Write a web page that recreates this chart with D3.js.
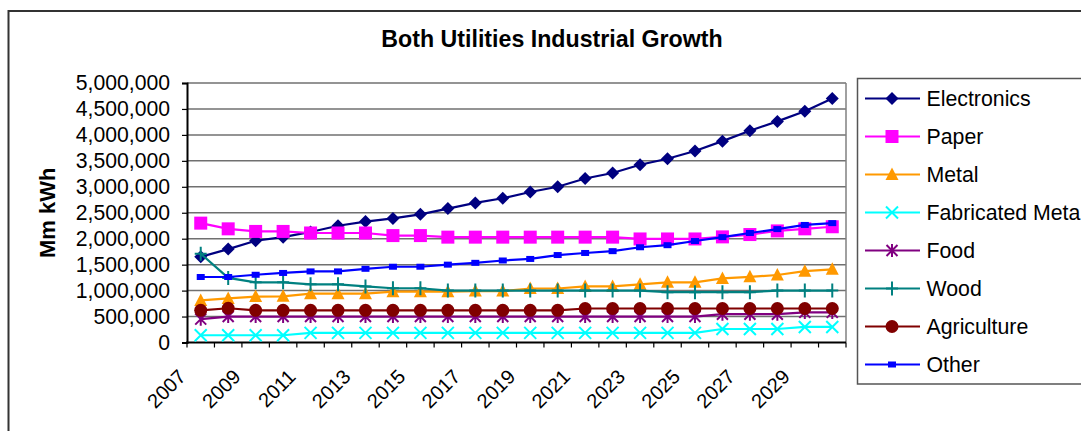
<!DOCTYPE html>
<html>
<head>
<meta charset="utf-8">
<script src="https://cdn.jsdelivr.net/npm/d3@7"></script>
<style>
  body { margin: 0; background: #fff; }
  text { font-family: "Liberation Sans", Arial, sans-serif; fill: #000; }
</style>
</head>
<body>
<div id="ChartArea"></div>
<script>
// ------------------------------------------------------------------
//  data
// ------------------------------------------------------------------
var years = ["2007","2008","2009","2010","2011","2012","2013","2014","2015","2016","2017","2018",
             "2019","2020","2021","2022","2023","2024","2025","2026","2027","2028","2029","2030"];
var yearLabels = ["2007","2009","2011","2013","2015","2017","2019","2021","2023","2025","2027","2029"];
var yTicks = [0, 500000, 1000000, 1500000, 2000000, 2500000, 3000000, 3500000, 4000000, 4500000, 5000000];

var electronics = [1650000,1800000,1960000,2030000,2130000,2250000,2330000,2390000,2470000,2580000,2690000,2780000,
                   2900000,3000000,3160000,3265000,3425000,3540000,3690000,3880000,4080000,4260000,4455000,4700000];
var paper       = [2300000,2190000,2140000,2140000,2110000,2110000,2110000,2060000,2060000,2030000,2030000,2030000,
                   2030000,2030000,2030000,2030000,1995000,1995000,1995000,2035000,2080000,2150000,2190000,2230000];
var metal       = [810000,850000,885000,890000,940000,940000,940000,980000,980000,980000,990000,990000,
                   1040000,1040000,1080000,1080000,1120000,1160000,1160000,1235000,1265000,1300000,1375000,1410000];
var fabMetal    = [140000,140000,140000,140000,185000,185000,185000,185000,185000,185000,185000,185000,
                   185000,185000,185000,185000,185000,185000,185000,260000,260000,260000,300000,300000];
var food        = [450000,500000,500000,500000,500000,500000,500000,500000,500000,500000,500000,500000,
                   500000,500000,500000,500000,500000,500000,500000,545000,545000,545000,580000,580000];
var wood        = [1710000,1245000,1160000,1160000,1120000,1120000,1080000,1045000,1045000,1000000,1000000,1000000,
                   1000000,1000000,1000000,1000000,1000000,970000,970000,970000,970000,1000000,1000000,1000000];
var agriculture = [620000,660000,620000,620000,620000,620000,620000,620000,620000,620000,620000,620000,
                   620000,620000,655000,655000,655000,655000,655000,655000,655000,655000,655000,655000];
var other       = [1262000,1262000,1305000,1340000,1370000,1370000,1420000,1460000,1460000,1500000,1535000,1580000,
                   1610000,1685000,1725000,1760000,1835000,1875000,1955000,2030000,2110000,2185000,2265000,2300000];

var seriesNames  = ["Electronics","Paper","Metal","Fabricated Metal","Food","Wood","Agriculture","Other"];
var seriesValues = [electronics, paper, metal, fabMetal, food, wood, agriculture, other];
var seriesColors = ["#000080","#ff00ff","#ff9900","#00ffff","#800080","#008080","#800000","#0000ff"];
var seriesMarker = ["diamond","square","triangle","x","star","plus","circle","smallsquare"];

// ------------------------------------------------------------------
function draw_marker (g, type, color, cx, cy)
{
  if (type == "diamond") {
    g.append("path").attr("d", "M" + cx + "," + (cy - 6.5) + "L" + (cx + 6.5) + "," + cy +
        "L" + cx + "," + (cy + 6.5) + "L" + (cx - 6.5) + "," + cy + "Z").attr("fill", color);
  } else if (type == "square") {
    g.append("rect").attr("x", cx - 6.5).attr("y", cy - 6.5).attr("width", 13).attr("height", 13).attr("fill", color);
  } else if (type == "smallsquare") {
    g.append("rect").attr("x", cx - 4).attr("y", cy - 3).attr("width", 8).attr("height", 6).attr("fill", color);
  } else if (type == "triangle") {
    g.append("path").attr("d", "M" + cx + "," + (cy - 7) + "L" + (cx + 6.5) + "," + (cy + 5.5) +
        "L" + (cx - 6.5) + "," + (cy + 5.5) + "Z").attr("fill", color);
  } else if (type == "circle") {
    g.append("circle").attr("cx", cx).attr("cy", cy).attr("r", 6.5).attr("fill", color);
  } else if (type == "x") {
    g.append("path").attr("d", "M" + (cx - 6) + "," + (cy - 6) + "L" + (cx + 6) + "," + (cy + 6) +
        "M" + (cx + 6) + "," + (cy - 6) + "L" + (cx - 6) + "," + (cy + 6))
      .attr("stroke", color).attr("stroke-width", 2).attr("fill", "none");
  } else if (type == "star") {
    g.append("path").attr("d", "M" + (cx - 5.5) + "," + (cy - 5.5) + "L" + (cx + 5.5) + "," + (cy + 5.5) +
        "M" + (cx + 5.5) + "," + (cy - 5.5) + "L" + (cx - 5.5) + "," + (cy + 5.5) +
        "M" + cx + "," + (cy - 6.5) + "L" + cx + "," + (cy + 6.5))
      .attr("stroke", color).attr("stroke-width", 2).attr("fill", "none");
  } else if (type == "plus") {
    g.append("path").attr("d", "M" + (cx - 6) + "," + cy + "L" + (cx + 6) + "," + cy +
        "M" + cx + "," + (cy - 7) + "L" + cx + "," + (cy + 7))
      .attr("stroke", color).attr("stroke-width", 2).attr("fill", "none");
  }
}

// ------------------------------------------------------------------
function write_line_chart ()
{
  var W = 1081, H = 431;
  var plot = {left: 187, right: 846, top: 83, bottom: 342.5};

  var svg = d3.select("#ChartArea").append("svg")
      .attr("width", W)
      .attr("height", H);

  // chart frame (runs past the picture on the right and bottom)
  svg.append("rect")
    .attr("x", 8.5).attr("y", 11)
    .attr("width", W + 20).attr("height", H + 20)
    .attr("fill", "none").attr("stroke", "#333").attr("stroke-width", 2);

  // title
  svg.append("text")
    .attr("x", 552).attr("y", 47)
    .attr("text-anchor", "middle")
    .style("font-size", "23.2px").style("font-weight", "bold")
    .text("Both Utilities Industrial Growth");

  var x = d3.scaleBand().domain(years).range([plot.left, plot.right]).padding(0);
  var y = d3.scaleLinear().domain([0, 5000000]).range([plot.bottom, plot.top]);

  // gridlines
  svg.append("g").selectAll("line")
    .data(yTicks.slice(1))
    .enter().append("line")
    .attr("x1", plot.left).attr("x2", plot.right)
    .attr("y1", function(d) { return y(d); }).attr("y2", function(d) { return y(d); })
    .attr("stroke", "#707070").attr("stroke-width", 1.5);

  // right border of the plot area
  svg.append("line")
    .attr("x1", plot.right).attr("x2", plot.right)
    .attr("y1", plot.top).attr("y2", plot.bottom)
    .attr("stroke", "#808080").attr("stroke-width", 1.5);

  // y axis
  var yAxis = svg.append("g")
    .attr("transform", "translate(" + plot.left + ",0)")
    .call(d3.axisLeft(y).tickValues(yTicks).tickFormat(d3.format(",")).tickSize(5).tickPadding(12));
  yAxis.select(".domain").attr("stroke", "#000").attr("stroke-width", 2);
  yAxis.selectAll(".tick line").attr("stroke", "#000").attr("stroke-width", 1.2);
  yAxis.selectAll("text")
    .style("font-size", "21.2px").style("font-family", "Liberation Sans, Arial, sans-serif")
    .attr("fill", "#000");

  // x axis (ticks between categories)
  var xAxis = svg.append("g");
  xAxis.append("line")
    .attr("x1", plot.left - 1).attr("x2", plot.right)
    .attr("y1", plot.bottom).attr("y2", plot.bottom)
    .attr("stroke", "#000").attr("stroke-width", 2);
  xAxis.selectAll(".xtick")
    .data(years.concat(["end"]))
    .enter().append("line")
    .attr("class", "xtick")
    .attr("x1", function(d) { return d == "end" ? plot.right : x(d); })
    .attr("x2", function(d) { return d == "end" ? plot.right : x(d); })
    .attr("y1", plot.bottom).attr("y2", plot.bottom + 5)
    .attr("stroke", "#000").attr("stroke-width", 1.2);
  xAxis.selectAll(".xlabel")
    .data(yearLabels)
    .enter().append("text")
    .attr("class", "xlabel")
    .attr("text-anchor", "end")
    .attr("transform", function(d) { return "translate(" + x(d) + ",378) rotate(-45)"; })
    .style("font-size", "20px")
    .text(function(d) { return d; });

  // y axis title
  svg.append("text")
    .attr("transform", "translate(55," + ((plot.top + plot.bottom) / 2) + ") rotate(-90)")
    .attr("text-anchor", "middle")
    .style("font-size", "22px").style("font-weight", "bold")
    .text("Mm kWh");

  // lines and markers
  var line = d3.line()
    .x(function(d, i) { return x(years[i]) + x.bandwidth() / 2; })
    .y(function(d) { return y(d); });

  seriesValues.forEach(function(vals, s) {
    var g = svg.append("g");
    g.append("path")
      .datum(vals)
      .attr("d", line)
      .attr("fill", "none")
      .attr("stroke", seriesColors[s])
      .attr("stroke-width", 2.2);
    vals.forEach(function(v, i) {
      draw_marker(g, seriesMarker[s], seriesColors[s], x(years[i]) + x.bandwidth() / 2, y(v));
    });
  });

  // legend
  var leg = svg.append("g");
  leg.append("rect")
    .attr("x", 857.5).attr("y", 78.5)
    .attr("width", 260).attr("height", 305.5)
    .attr("fill", "#fff").attr("stroke", "#555").attr("stroke-width", 1.5);
  seriesNames.forEach(function(name, s) {
    var cy = 98.5 + s * 38;
    leg.append("line")
      .attr("x1", 865).attr("x2", 920)
      .attr("y1", cy).attr("y2", cy)
      .attr("stroke", seriesColors[s]).attr("stroke-width", 2.2);
    draw_marker(leg, seriesMarker[s], seriesColors[s], 892, cy);
    leg.append("text")
      .attr("x", 926.5).attr("y", cy + 7.5)
      .style("font-size", "21.3px")
      .text(name);
  });
}

write_line_chart();
</script>
</body>
</html>
